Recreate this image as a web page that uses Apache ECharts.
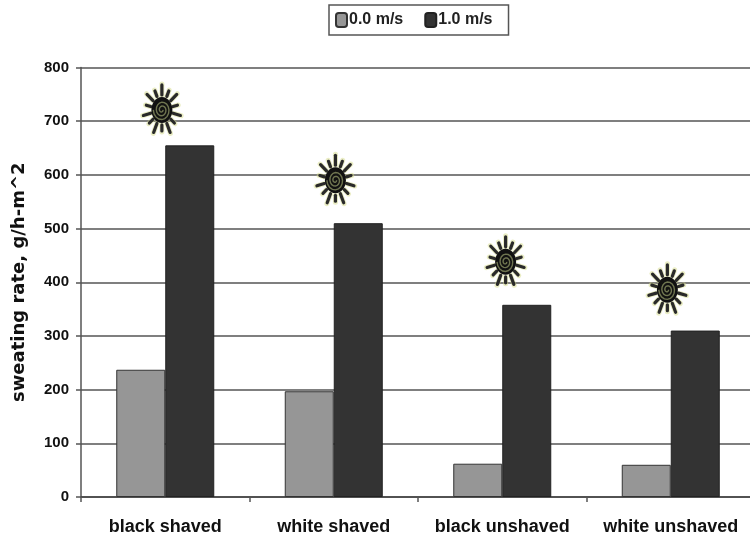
<!DOCTYPE html>
<html>
<head>
<meta charset="utf-8">
<style>html,body{margin:0;padding:0;background:#fff}#main{width:750px;height:540px}</style>
<script src="https://cdn.jsdelivr.net/npm/echarts@6/dist/echarts.min.js"></script>
</head>
<body>
<div id="main"></div>
<script>
var categories = ['black shaved', 'white shaved', 'black unshaved', 'white unshaved'];
var still = [237, 197, 62, 60];
var windy = [655, 510, 358, 310];
// sun markers, x in category units (0..4), y in axis units
var sunX = [0.48, 1.51, 2.52, 3.48];
var sunY = [721, 590, 438, 386];

var font = '"Liberation Sans", Arial, sans-serif';

function renderSun(params, api) {
	var p = api.coord([api.value(0), api.value(1)]);
	var kids = [];
	var i, a;
	var n = 14;
	// sun is taller than wide in the picture
	var sx = 0.76;
	for (i = 0; i < n; i++) {
		a = (i / n - 0.25) * Math.PI * 2;
		var r1 = 15;
		var r2 = i % 2 ? 21 : 25;
		var c = Math.cos(a), s = Math.sin(a);
		kids.push({
			type: 'line',
			shape: {x1: p[0] + c * r1 * sx, y1: p[1] + s * r1, x2: p[0] + c * (r2 + 1) * sx, y2: p[1] + s * (r2 + 1)},
			style: {stroke: '#d6dc8a', lineWidth: 5, lineCap: 'round', opacity: 0.5}
		});
		kids.push({
			type: 'line',
			shape: {x1: p[0] + c * r1 * sx, y1: p[1] + s * r1, x2: p[0] + c * r2 * sx, y2: p[1] + s * r2},
			style: {stroke: '#2a2a2a', lineWidth: 3.2, lineCap: 'round'}
		});
	}
	kids.push({type: 'ellipse', shape: {cx: p[0], cy: p[1], rx: 10.5, ry: 13}, style: {fill: '#111'}});
	var pts = [];
	for (i = 0; i <= 40; i++) {
		a = i / 40 * Math.PI * 5;
		pts.push([p[0] + Math.cos(a) * (1 + i * 0.19), p[1] + Math.sin(a) * (1 + i * 0.24)]);
	}
	kids.push({type: 'polyline', shape: {points: pts}, style: {stroke: '#6f7550', fill: null, lineWidth: 1.4}});
	return {type: 'group', children: kids};
}

var myChart = echarts.init(document.getElementById('main'));
var option = {
	animation: false,
	textStyle: {fontFamily: font},
	legend: {
		data: ['0.0 m/s', '1.0 m/s'],
		left: 329,
		top: 5,
		padding: [7, 16, 7, 6],
		itemGap: 21,
		itemWidth: 11,
		itemHeight: 14,
		borderColor: '#555',
		borderWidth: 1.5,
		textStyle: {fontSize: 16, fontWeight: 'bold', color: '#222', padding: [2, 0, 0, -3]}
	},
	grid: {left: 81, width: 674, top: 67.5, height: 429.5, outerBoundsMode: 'none'},
	xAxis: [
		{
			type: 'category',
			data: categories,
			axisLine: {lineStyle: {color: '#444', width: 1.5}},
			axisTick: {show: true, length: 5, lineStyle: {color: '#555', width: 1.5}},
			axisLabel: {color: '#111', fontSize: 18, fontWeight: 'bold', margin: 21, interval: 0}
		},
		{type: 'value', min: 0, max: 4, show: false}
	],
	yAxis: {
		type: 'value',
		min: 0,
		max: 800,
		interval: 100,
		name: 'sweating rate, g/h-m^2',
		nameLocation: 'middle',
		nameGap: 53,
		nameTextStyle: {fontFamily: '"DejaVu Sans"', fontSize: 18, fontWeight: 'bold', color: '#111'},
		axisLine: {show: true, lineStyle: {color: '#555', width: 1.5}},
		axisTick: {show: true, length: 5, lineStyle: {color: '#555', width: 1.5}},
		axisLabel: {color: '#111', fontSize: 15, fontWeight: 'bold', margin: 12},
		splitLine: {lineStyle: {color: '#555', width: 1.5}}
	},
	series: [
		{
			name: '0.0 m/s',
			type: 'bar',
			data: still,
			barWidth: 49,
			barGap: 0,
			itemStyle: {color: '#969696', borderColor: '#333', borderWidth: 1}
		},
		{
			name: '1.0 m/s',
			type: 'bar',
			data: windy,
			barWidth: 49,
			itemStyle: {color: '#333333', borderColor: '#222', borderWidth: 1}
		},
		{
			name: 'sun',
			type: 'custom',
			xAxisIndex: 1,
			renderItem: renderSun,
			encode: {x: 0, y: 1},
			data: sunX.map(function (x, i) { return [x, sunY[i]]; }),
			silent: true,
			z: 5
		}
	]
};
myChart.setOption(option);
</script>
</body>
</html>
